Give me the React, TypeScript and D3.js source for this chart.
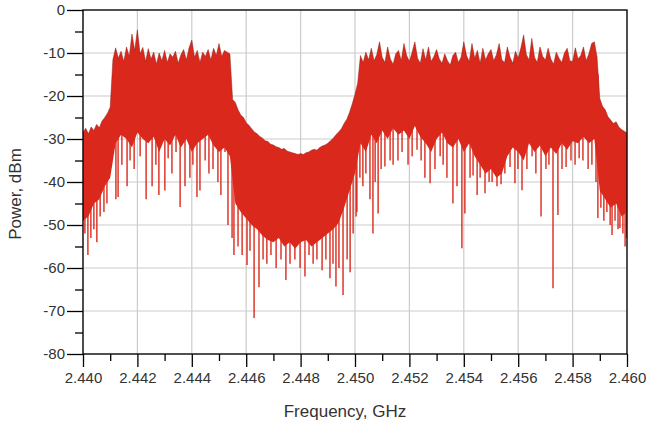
import React, { useEffect, useRef } from 'react';
import * as d3 from 'd3';

// sampling grids of the trace, GHz
const FREQ_START = 2.44;
const TOP_STEP = 0.0001;
const FLOOR_STEP = 0.0002;

// upper edge of the trace, dBm, one value every 0.1 MHz from 2.440 GHz
const topDbm = [
  -28.5, -27.5, -28.8, -27.2, -28, -26.6, -27.4, -25.8, -25, -24, -22.6,
  -11.5, -8.8, -11.2, -9.6, -12, -8.6, -10.8, -5.6, -9.4, -4.6,
  -10.2, -8.7, -12.0, -9.0, -11.4, -9.8, -12.6, -10.0, -11.8, -9.4,
  -12.2, -10.2, -11.0, -9.6, -12.4, -10.4, -9.2, -11.6, -8.8, -7.0,
  -11.0, -9.4, -12.2, -9.8, -10.8, -9.2, -11.6, -8.9, -10.6, -7.8,
  -10.8, -9.4, -9.8, -10.2, -20.8,
  -21.5, -23.2, -24.4, -25.0, -26.2,
  -26.8, -27.6, -28.4, -28.8, -29.4, -29.8, -30.4, -30.6, -31.2, -31.4,
  -31.8, -32.0, -32.4, -32.2, -32.8, -33.0, -33.2, -33.4, -33.6, -33.4,
  -33.6, -33.2, -33.0, -32.6, -32.4, -32.6, -32.0, -31.6, -31.4, -31.0,
  -30.4, -29.8, -29.0, -28.4, -27.6, -26.4, -25.4, -23.8, -21.8, -19.6,
  -17.0,
  -10.6, -12.2, -9.8, -11.6, -8.9, -11.8, -10.4, -7.4, -11.0,
  -12.2, -8.6, -11.4, -12.6, -10.2, -9.4, -11.8, -7.8, -10.6, -12.0,
  -9.8, -7.4, -11.2, -12.4, -9.0, -11.6, -8.6, -12.0, -10.8, -9.2,
  -11.4, -12.4, -10.2, -11.8, -12.8, -10.6, -9.8, -12.2, -11.0, -7.4,
  -10.6, -12.0, -7.8, -11.2, -9.4, -12.4, -8.9, -11.6, -10.2, -9.2,
  -11.8, -10.4, -7.8, -11.6, -12.2, -8.6, -11.0, -12.4, -9.6, -11.2,
  -8.8, -5.8, -10.4, -11.6, -6.6, -11.0, -12.2, -8.6, -10.8, -11.6,
  -8.9, -11.4, -12.6, -9.8, -11.2, -12.2, -10.0, -8.9, -11.8, -12.0,
  -8.8, -11.4, -10.6, -8.6, -11.8, -10.2, -7.8, -7.4, -11.0, -20.6,
  -22.4, -23.2, -24.8, -25.6, -26.4, -26.0, -27.2, -27.8, -28.2, -28.6,
];

// lower edge of the solid part of the trace, dBm, one value every 0.2 MHz
const floorDbm = [
  -49, -48, -45, -44, -41, -39,
  -31, -29, -30, -32, -28.5, -30, -31, -29.5, -33, -30, -31.5,
  -29, -32, -30, -33, -31, -30, -29, -31.5, -33, -32, -34,
  -45,
  -47, -48.5, -50, -51, -52.5, -53.5, -54, -53, -55, -54, -55.5,
  -54, -53.5, -55, -54, -53, -52, -51, -49.5, -46, -42, -38,
  -31, -33, -29, -31, -28, -30, -27.5, -29, -28, -30,
  -27, -29.5, -31, -33, -30, -28.5, -31, -32, -30, -33,
  -31, -34, -36, -38, -37, -39, -38, -34, -32, -33,
  -35, -31, -33, -31.5, -34, -32, -33.5, -31, -32.5, -30.5,
  -31, -29.5, -31, -30,
  -42, -44, -46, -45, -48, -47,
];

// deep single-sample dips below the solid part
const dipGHz = [
  2.44007, 2.44018, 2.44029, 2.4404, 2.44051, 2.44063, 2.44077, 2.44088,
  2.44121, 2.44129, 2.44143, 2.44162, 2.44173, 2.44188, 2.4421, 2.44232,
  2.44254, 2.44268, 2.44279, 2.44301, 2.44313, 2.44327, 2.44342, 2.44357,
  2.44375, 2.44393, 2.44404, 2.44419, 2.4443, 2.44449, 2.44463, 2.44478,
  2.44496, 2.44507, 2.44522, 2.44533,
  2.44548, 2.44555, 2.4457, 2.44585, 2.44603, 2.44614, 2.44629, 2.44647,
  2.44662, 2.44676, 2.44691, 2.4471, 2.44728, 2.44746, 2.44761, 2.44779,
  2.44798, 2.44816, 2.44831, 2.44846, 2.4486, 2.44879, 2.44893, 2.44908,
  2.44919, 2.4493, 2.44941, 2.44956, 2.44971, 2.44982, 2.44993, 2.45004,
  2.45007, 2.45018, 2.45029, 2.4504, 2.45055, 2.45066, 2.45074, 2.45085,
  2.45096, 2.4511, 2.45129, 2.4514, 2.45158, 2.45173, 2.45195, 2.4521,
  2.45228, 2.45243, 2.45257, 2.45276, 2.45294, 2.45313, 2.45324, 2.45338,
  2.4536, 2.45375, 2.45393, 2.45404, 2.45423, 2.45434, 2.45449, 2.4546,
  2.45478, 2.45493, 2.45504, 2.45522, 2.45537, 2.45551, 2.4557, 2.45588,
  2.45599, 2.45614, 2.45632, 2.45651, 2.45665, 2.45684, 2.45702, 2.45713,
  2.45728, 2.45746, 2.45761, 2.45776, 2.45794, 2.45809, 2.45824, 2.45838,
  2.45857, 2.45871, 2.45886,
  2.45893, 2.45904, 2.45915, 2.45926, 2.45938, 2.45945, 2.45956, 2.45967,
  2.45974, 2.45985, 2.45993, 2.45998,
];
const dipDbm = [
  -52, -57, -53, -51, -54, -48, -47, -45,
  -44, -43.5, -36, -41, -35, -37, -34, -44,
  -41, -36, -43, -42, -34.5, -38, -33, -45.8,
  -41, -39, -36, -43.5, -42, -35, -38, -37,
  -40, -43, -33, -50,
  -53, -57, -55, -57, -59.3, -56, -71.6, -64.5,
  -58, -59, -57, -60, -58, -62.8, -59, -58,
  -60, -62, -57, -59, -58, -60.5, -58, -62.4,
  -59, -64.3, -60, -66.3, -58, -61, -52, -48,
  -47, -39, -41, -38, -44, -52, -40, -47.3,
  -37, -36.4, -35, -36, -35, -33, -36, -34,
  -32.5, -35, -39, -40.3, -37, -34, -36, -39,
  -45, -41, -55.4, -47.3, -39, -38.5, -43, -39,
  -42.6, -40, -40, -41, -40.5, -38, -36.5, -40.3,
  -37, -41.9, -37, -34, -38, -48, -37, -36,
  -64.7, -47.7, -37, -36.5, -35, -36, -34.5, -35,
  -37, -36, -40,
  -48.4, -46, -49, -47, -50, -52.3, -49, -51,
  -50.7, -52, -55, -53,
];

const xTicks = [2.44, 2.442, 2.444, 2.446, 2.448, 2.45, 2.452, 2.454, 2.456, 2.458, 2.46];
const xMinorTicks = [2.441, 2.443, 2.445, 2.447, 2.449, 2.451, 2.453, 2.455, 2.457, 2.459];
const yTicks = [0, -10, -20, -30, -40, -50, -60, -70, -80];
const yMinorTicks = [-5, -15, -25, -35, -45, -55, -65, -75];

const RED = '#da291c';
const FONT = '"Liberation Sans", Arial, sans-serif';

export default function App() {
  const ref = useRef<SVGSVGElement>(null);

  useEffect(() => {
    const svg = d3.select(ref.current);
    svg.selectAll('*').remove();

    const left = 83, right = 627, top = 10, bottom = 354;
    const x = d3.scaleLinear().domain([2.44, 2.46]).range([left, right]);
    const y = d3.scaleLinear().domain([-80, 0]).range([bottom, top]);

    svg.append('defs').append('clipPath').attr('id', 'plot')
      .append('rect').attr('x', left).attr('y', top)
      .attr('width', right - left).attr('height', bottom - top);

    // grid
    const grid = svg.append('g').attr('stroke', '#cccccc').attr('stroke-width', 1.2);
    grid.selectAll('line.gx').data(xTicks).join('line')
      .attr('x1', d => x(d)).attr('x2', d => x(d))
      .attr('y1', top).attr('y2', bottom);
    grid.selectAll('line.gy').data(yTicks).join('line')
      .attr('y1', d => y(d)).attr('y2', d => y(d))
      .attr('x1', left).attr('x2', right);

    const plot = svg.append('g').attr('clip-path', 'url(#plot)');

    const topPts: [number, number][] = topDbm.map((v, i) => [x(FREQ_START + i * TOP_STEP), y(v)]);
    const floorPts: [number, number][] = floorDbm.map((v, j) => [x(FREQ_START + j * FLOOR_STEP), y(v)]);

    // dips go from the upper edge at the nearest sample down to the dip value
    plot.selectAll('line.dip').data(dipGHz).join('line')
      .attr('x1', d => x(d)).attr('x2', d => x(d))
      .attr('y1', d => y(topDbm[Math.round((d - FREQ_START) / TOP_STEP)] - 4))
      .attr('y2', (d, i) => y(dipDbm[i]))
      .attr('stroke', RED)
      .attr('stroke-width', 1.4);

    plot.append('path')
      .attr('d', d3.line()([...topPts, ...floorPts.slice().reverse()]) + 'Z')
      .attr('fill', RED);

    plot.append('path')
      .attr('d', d3.line()(topPts))
      .attr('fill', 'none')
      .attr('stroke', '#8a1c12')
      .attr('stroke-width', 0.8)
      .attr('stroke-opacity', 0.6);

    // axes
    const styleAxis = (g: any) => {
      g.select('.domain').remove();
      g.selectAll('line').attr('stroke', '#000').attr('stroke-width', 1.3);
      g.selectAll('text').attr('fill', '#333').style('font-family', FONT).style('font-size', '15px');
    };

    svg.append('g').attr('transform', `translate(${left},0)`)
      .call(d3.axisLeft(y).tickValues(yTicks).tickSize(16).tickSizeOuter(0).tickPadding(2)
        .tickFormat(d => String(d)))
      .call(styleAxis);
    svg.append('g').attr('transform', `translate(${left},0)`)
      .call(d3.axisLeft(y).tickValues(yMinorTicks).tickSize(8).tickSizeOuter(0).tickFormat(() => ''))
      .call(styleAxis);
    svg.append('g').attr('transform', `translate(0,${bottom})`)
      .call(d3.axisBottom(x).tickValues(xTicks).tickSize(13).tickSizeOuter(0).tickPadding(5)
        .tickFormat(d => d3.format('.3f')(d as number)))
      .call(styleAxis);
    svg.append('g').attr('transform', `translate(0,${bottom})`)
      .call(d3.axisBottom(x).tickValues(xMinorTicks).tickSize(7).tickSizeOuter(0).tickFormat(() => ''))
      .call(styleAxis);

    svg.append('rect')
      .attr('x', left).attr('y', top)
      .attr('width', right - left).attr('height', bottom - top)
      .attr('fill', 'none').attr('stroke', '#000').attr('stroke-width', 1.3);

    svg.append('text')
      .attr('transform', `translate(21,194) rotate(-90)`)
      .attr('text-anchor', 'middle')
      .attr('fill', '#333')
      .style('font-family', FONT).style('font-size', '17px')
      .text('Power, dBm');

    svg.append('text')
      .attr('x', 345).attr('y', 417)
      .attr('text-anchor', 'middle')
      .attr('fill', '#333')
      .style('font-family', FONT).style('font-size', '17px')
      .text('Frequency, GHz');
  }, []);

  return (
    <svg ref={ref} width={647} height={427}
      style={{ position: 'absolute', left: 0, top: 0, background: '#fff' }} />
  );
}
